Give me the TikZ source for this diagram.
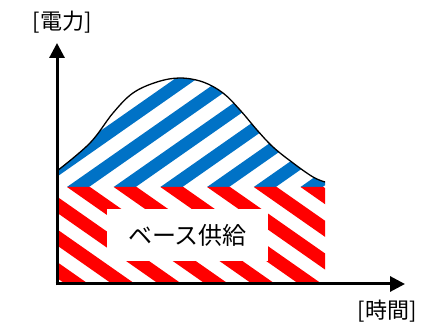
\documentclass[tikz,border=0pt]{standalone}
\usepackage{fontspec}
\newfontfamily\jp{Noto Sans CJK JP}
\usetikzlibrary{arrows.meta}
\definecolor{stripeblue}{RGB}{0,114,198}
\definecolor{stripered}{RGB}{255,0,0}
\begin{document}
\begin{tikzpicture}[x=1pt,y=-1pt,
  axis/.style={line width=3pt,-{Triangle[length=15pt,width=15pt]}},
  curveline/.style={line width=1.3pt,black},
  lbl/.style={inner sep=0pt,font=\jp\fontsize{22}{22}\selectfont}]
\useasboundingbox[fill=white] (0,0) rectangle (434,323);
% blue stripes (peak part)
\begin{scope}
  \clip plot[smooth,tension=0.6] coordinates {(57,171) (90,143) (113,113) (133,93) (157,82) (180,78) (203,82) (223,93) (240,110) (257,130) (273,147) (293,163) (313,177) (325,182)} -- (325,187) -- (57,187) -- cycle;
  \foreach \k in {-5,...,6}{
    \pgfmathsetmacro\xa{67+46.7*\k}
    \fill[stripeblue] (\xa,187) -- ++(22,0) -- ++(171.4,-120) -- ++(-22,0) -- cycle;
  }
\end{scope}
% red stripes (base part)
\begin{scope}
  \clip (57,187) rectangle (325,284);
  \foreach \k in {-5,...,6}{
    \pgfmathsetmacro\xa{67+46.7*\k}
    \fill[stripered] (\xa,187) -- ++(23,0) -- ++(142.9,100) -- ++(-23,0) -- cycle;
  }
\end{scope}
\draw[curveline] plot[smooth,tension=0.6] coordinates {(57,171) (90,143) (113,113) (133,93) (157,82) (180,78) (203,82) (223,93) (240,110) (257,130) (273,147) (293,163) (313,177) (325,182)};
% label box
\node[fill=white,minimum width=161pt,minimum height=52pt,inner sep=0pt,font=\jp\fontsize{24}{24}\selectfont] (base) at (187.5,235) {ベース供給};
% axes
\coordinate (origin) at (57,284);
\coordinate (ytip) at (57,43);
\coordinate (xtip) at (405,284);
\draw[axis] ([xshift=-1.5pt]origin) -- (xtip);
\draw[axis] ([yshift=-1.5pt]origin) -- (ytip);
\node[lbl] (ylabel) at (62,22) {[電力]};
\node[lbl] (xlabel) at (387,311) {[時間]};
\end{tikzpicture}
\end{document}
